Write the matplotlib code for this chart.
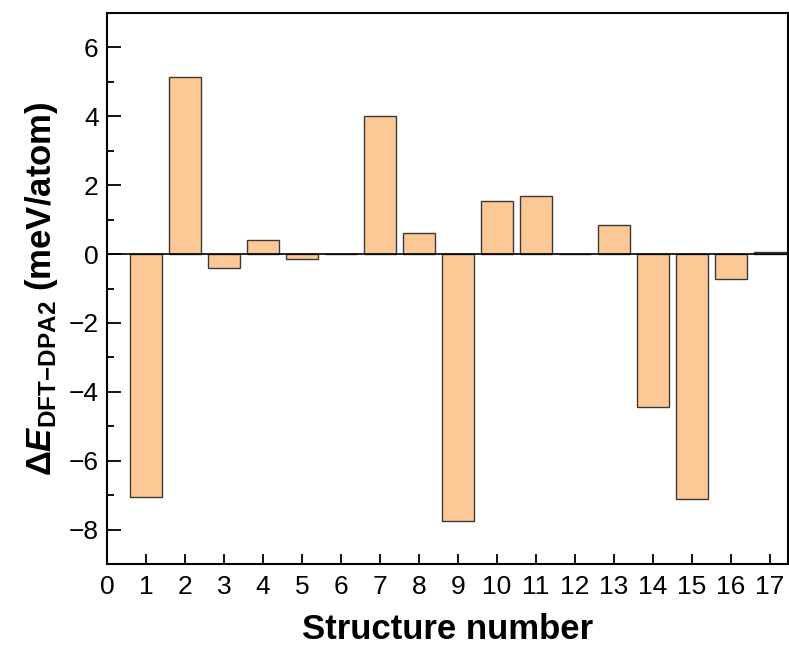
import matplotlib
matplotlib.use("Agg")
import matplotlib.pyplot as plt
from matplotlib.ticker import MultipleLocator

plt.rcParams['font.family'] = ['Liberation Sans', 'DejaVu Sans']
plt.rcParams['mathtext.fontset'] = 'custom'
plt.rcParams['mathtext.rm'] = 'Liberation Sans:bold'
plt.rcParams['mathtext.bf'] = 'Liberation Sans:bold'
plt.rcParams['mathtext.it'] = 'Liberation Sans:bold:italic'
plt.rcParams['mathtext.bfit'] = 'Liberation Sans:bold:italic'

structures = list(range(1, 18))
delta_e = [-7.06, 5.13, -0.40, 0.40, -0.15, 0.0, 4.02, 0.62, -7.76,
           1.54, 1.68, 0.0, 0.85, -4.44, -7.11, -0.72, 0.05]
xticks = list(range(0, 18))
yticks = [-8, -6, -4, -2, 0, 2, 4, 6]

fig = plt.figure(figsize=(7.89, 6.54), dpi=100)
ax = fig.add_axes([107/789, 90/654, 681/789, 551/654])

ax.bar(structures, delta_e, width=0.8, color='#FCC996', edgecolor='#3a3a3a',
       linewidth=1.0, zorder=2)
ax.axhline(0, color='black', linewidth=1.2, zorder=3)

ax.set_xlim(0, 17.46)
ax.set_ylim(-9, 7)
ax.set_xticks(xticks)
ax.set_yticks(yticks)
ax.yaxis.set_minor_locator(MultipleLocator(1))
ax.tick_params(axis='both', which='major', direction='in', labelsize=19,
               top=False, right=False, width=1.3)
ax.tick_params(axis='y', which='major', length=10, pad=6)
ax.tick_params(axis='x', which='major', length=7, pad=8)
ax.tick_params(axis='y', which='minor', direction='in', length=5, width=1.3,
               right=False)
for s in ax.spines.values():
    s.set_linewidth(1.5)

ax.set_xlabel('Structure number', fontsize=25, fontweight='bold', labelpad=10)
ax.set_ylabel(r'$\Delta\mathit{E}_{\mathrm{DFT{-}DPA2}}$ (meV/atom)',
              fontsize=25, fontweight='bold', labelpad=6)

fig.savefig('out.png', dpi=100)
